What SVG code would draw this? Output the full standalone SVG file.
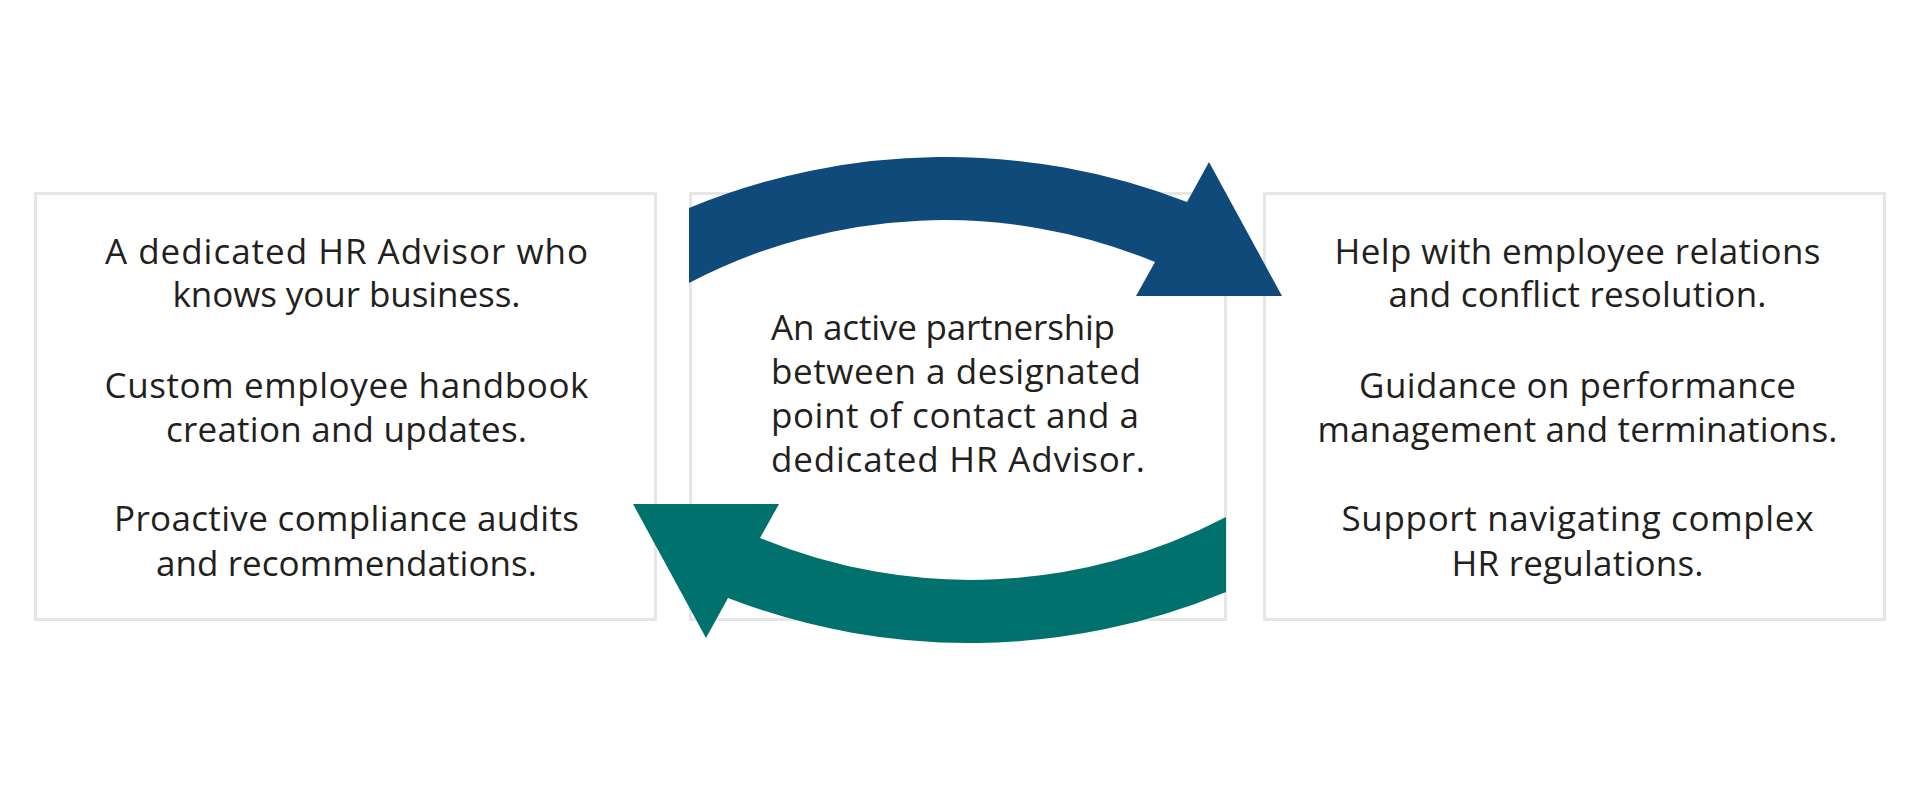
<svg xmlns="http://www.w3.org/2000/svg" width="1920" height="800" viewBox="0 0 1920 800">
<style>
.box{fill:#ffffff;stroke:#e6e6e6;stroke-width:3}
.t{font-family:"Open Sans","Liberation Sans",sans-serif;font-size:35px;fill:#231f20;text-anchor:middle}
.m{font-family:"Open Sans","Liberation Sans",sans-serif;font-size:35px;fill:#231f20}
.blue{fill:#0f4a7a}
.teal{fill:#00716c}
</style>
<defs>
<path id="arrowShape" d="M689,208 A670,670 0 0 1 1187,202 L1209,162 L1282,296 L1136,296 L1155,262 A550,550 0 0 0 689,283 Z"/>
</defs>
<rect width="1920" height="800" fill="#ffffff"/>
<g id="node-left">
<rect class="box" x="35.5" y="193.5" width="620" height="426"/>
<text class="t" x="346.5" y="264" textLength="483" lengthAdjust="spacing">A dedicated HR Advisor who</text>
<text class="t" x="346.5" y="307" textLength="348" lengthAdjust="spacing">knows your business.</text>
<text class="t" x="346.5" y="398" textLength="484" lengthAdjust="spacing">Custom employee handbook</text>
<text class="t" x="346.5" y="442" textLength="361" lengthAdjust="spacing">creation and updates.</text>
<text class="t" x="346.5" y="531" textLength="465" lengthAdjust="spacing">Proactive compliance audits</text>
<text class="t" x="346.5" y="576" textLength="381" lengthAdjust="spacing">and recommendations.</text>
</g>
<g id="node-center">
<rect class="box" x="690.5" y="193.5" width="535" height="426"/>
<text class="m" x="771" y="340" textLength="344" lengthAdjust="spacing">An active partnership</text>
<text class="m" x="771" y="384" textLength="370" lengthAdjust="spacing">between a designated</text>
<text class="m" x="771" y="428" textLength="368" lengthAdjust="spacing">point of contact and a</text>
<text class="m" x="771" y="472" textLength="374" lengthAdjust="spacing">dedicated HR Advisor.</text>
</g>
<g id="node-right">
<rect class="box" x="1264.5" y="193.5" width="620" height="426"/>
<text class="t" x="1577.5" y="264" textLength="486" lengthAdjust="spacing">Help with employee relations</text>
<text class="t" x="1577.5" y="307" textLength="378" lengthAdjust="spacing">and conflict resolution.</text>
<text class="t" x="1577.5" y="398" textLength="437" lengthAdjust="spacing">Guidance on performance</text>
<text class="t" x="1577.5" y="442" textLength="520" lengthAdjust="spacing">management and terminations.</text>
<text class="t" x="1577.5" y="531" textLength="472" lengthAdjust="spacing">Support navigating complex</text>
<text class="t" x="1577.5" y="576" textLength="252" lengthAdjust="spacing">HR regulations.</text>
</g>
<g id="connectors">
<use href="#arrowShape" class="blue"/>
<use href="#arrowShape" class="teal" transform="rotate(180 957.5 400)"/>
</g>
</svg>
